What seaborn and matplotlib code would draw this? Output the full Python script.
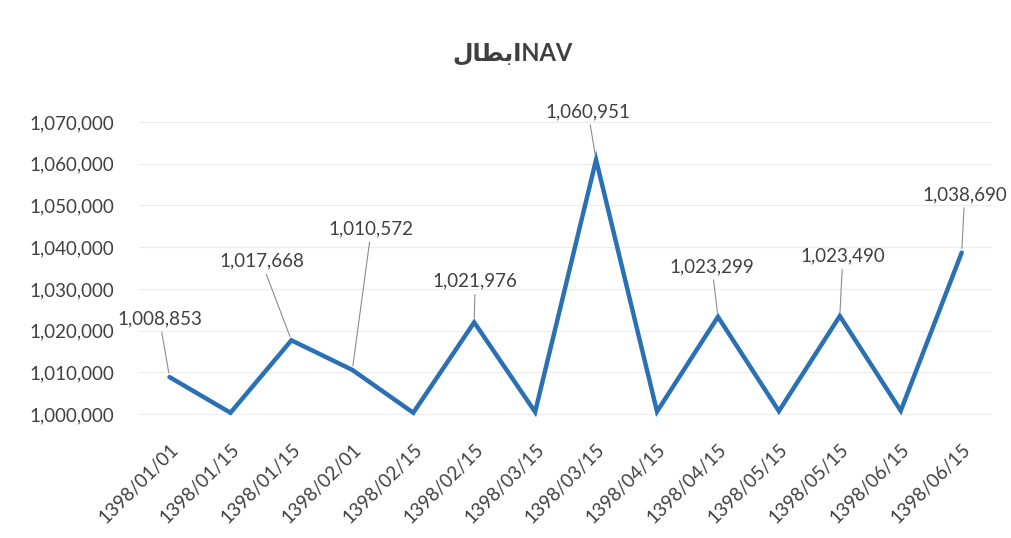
import numpy as np
import pandas as pd
import seaborn as sns
from matplotlib import pyplot as plt
from matplotlib.ticker import FuncFormatter

dates = ["1398/01/01", "1398/01/15", "1398/01/15", "1398/02/01", "1398/02/15",
         "1398/02/15", "1398/03/15", "1398/03/15", "1398/04/15", "1398/04/15",
         "1398/05/15", "1398/05/15", "1398/06/15", "1398/06/15"]
nav = [1008853, 1000300, 1017668, 1010572, 1000300, 1021976, 1000500,
       1060951, 1000600, 1023299, 1000700, 1023490, 1000800, 1038690]
# which points carry a value label
labeled = [True, False, True, True, False, True, False,
           True, False, True, False, True, False, True]
# label offsets (pixels) from the point
label_dx = [-10, 0, -30, 19, 0, 1, 0, -8, 0, -6, 0, 3, 0, 3]
label_dy = [58, 0, 79, 141, 0, 41, 0, 48, 0, 50, 0, 60, 0, 58]

title = "\uFEDD\uFE8E\uFEC4\uFE91\uFE8D" + "NAV"  # ابطال NAV, visual order

sns.set_theme(style="white")
plt.rcParams["font.family"] = ["Lato", "DejaVu Sans"]

df = pd.DataFrame({"pos": np.arange(len(nav)), "nav": nav})

fig = plt.figure(figsize=(10.12, 5.38), dpi=100)
ax = fig.add_axes([0.1374, 0.2227, 0.843, 0.566])

ax.set_ylim(999000, 1072000)
ax.set_xlim(-0.5, len(nav) - 0.5)
ax.set_yticks(range(1000000, 1070001, 10000))
ax.yaxis.set_major_formatter(FuncFormatter(lambda v, p: f"{int(v):,}"))
ax.grid(axis="y", color="#ececec", lw=0.8)
ax.set_axisbelow(True)

sns.lineplot(data=df, x="pos", y="nav", ax=ax, color="#2a70b4", lw=3.2,
             solid_joinstyle="miter", clip_on=False)

for i, v in enumerate(nav):
    if not labeled[i]:
        continue
    ax.annotate(f"{v:,}", xy=(i, v), xytext=(label_dx[i], label_dy[i]),
                textcoords="offset pixels", ha="center", va="center",
                fontsize=13.5, color="#404040",
                arrowprops=dict(arrowstyle="-", color="#8c8c8c", lw=0.8,
                                shrinkA=1, shrinkB=3))

ax.set_xticks(range(len(dates)))
ax.set_xticklabels(dates, rotation=45, ha="right", rotation_mode="anchor",
                   fontsize=13.5, color="#404040")
ax.tick_params(axis="y", labelsize=13.5, labelcolor="#404040", length=0, pad=18)
ax.tick_params(axis="x", length=0, pad=16)
ax.set_xlabel("")
ax.set_ylabel("")
sns.despine(ax=ax, left=True, bottom=True)

fig.text(0.506, 0.9, title, ha="center", va="center", fontsize=17,
         fontweight="bold", color="#404040")

fig.savefig("out.png", dpi=100, facecolor="white")
